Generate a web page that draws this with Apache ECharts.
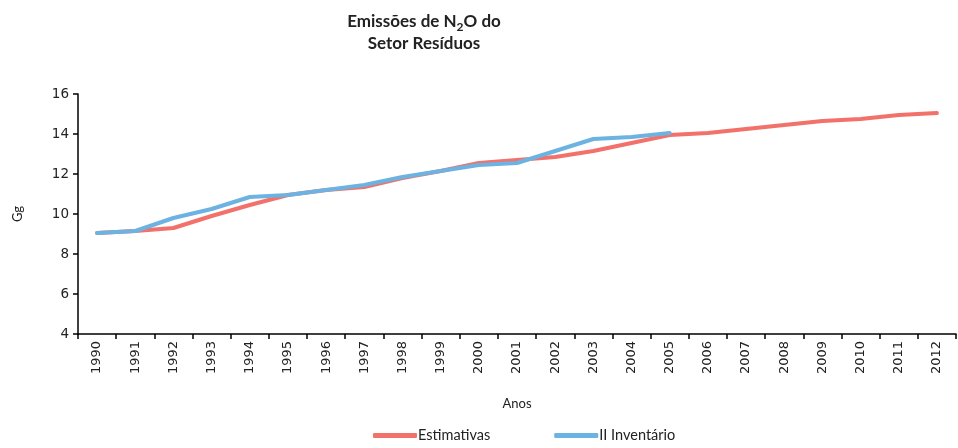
<!DOCTYPE html>
<html>
<head>
<meta charset="utf-8">
<script src="https://cdn.jsdelivr.net/npm/echarts@6/dist/echarts.min.js"></script>
<style>
  html, body { margin: 0; padding: 0; background: #fff; }
  #chart { width: 958px; height: 448px; }
</style>
</head>
<body>
<div id="chart"></div>
<script>
// anos
const anos = ['1990','1991','1992','1993','1994','1995','1996','1997','1998','1999','2000',
  '2001','2002','2003','2004','2005','2006','2007','2008','2009','2010','2011','2012'];
// Estimativas (Gg)
const estimativas = [9.05, 9.15, 9.3, 9.9, 10.45, 10.95, 11.2, 11.35, 11.8, 12.15, 12.55,
  12.7, 12.85, 13.15, 13.55, 13.95, 14.05, 14.25, 14.45, 14.65, 14.75, 14.95, 15.05];
// II Inventário (1990-2005)
const inventario = [9.05, 9.15, 9.8, 10.25, 10.85, 10.95, 11.2, 11.45, 11.85, 12.15, 12.45,
  12.55, 13.15, 13.75, 13.85, 14.05];

const chart = echarts.init(document.getElementById('chart'));

const option = {
  animation: false,
  title: {
    text: 'Emissões de N{sub|2}O do\nSetor Resíduos',
    left: 419,
    top: 6,
    textAlign: 'center',
    textStyle: {
      fontFamily: 'Lato',
      fontWeight: 'bold',
      fontSize: 17,
      color: '#222',
      lineHeight: 22,
      rich: {
        sub: { fontFamily: 'Lato', fontWeight: 'bold', fontSize: 12, color: '#222', verticalAlign: 'bottom', padding: [7, 0, 0, 0] }
      }
    }
  },
  legend: {
    bottom: 0,
    left: 368,
    itemGap: 64,
    itemWidth: 44,
    itemHeight: 5,
    icon: 'roundRect',
    textStyle: { fontFamily: 'Lato', fontSize: 14.5, color: '#222', padding: [0, 0, 0, -4] },
    data: ['Estimativas', 'II Inventário']
  },
  grid: { left: 78, right: 2, top: 94, bottom: 114 },
  xAxis: {
    type: 'category',
    data: anos,
    boundaryGap: true,
    name: 'Anos',
    nameLocation: 'middle',
    nameGap: 63,
    nameTextStyle: { fontFamily: 'Lato', fontSize: 13, color: '#222' },
    axisLine: { lineStyle: { color: '#000', width: 1.5 } },
    axisTick: { show: true, length: 5, alignWithLabel: false, lineStyle: { color: '#000', width: 1.5 } },
    axisLabel: { rotate: 90, fontFamily: 'DejaVu Sans', fontSize: 13, color: '#222', margin: 7 },
    splitLine: { show: false }
  },
  yAxis: {
    type: 'value',
    min: 4,
    max: 16,
    interval: 2,
    name: 'Gg',
    nameLocation: 'middle',
    nameGap: 54,
    nameRotate: 90,
    nameTextStyle: { fontFamily: 'Lato', fontSize: 13, color: '#222' },
    axisLine: { show: true, lineStyle: { color: '#000', width: 1.5 } },
    axisTick: { show: true, length: 5, lineStyle: { color: '#000', width: 1.5 } },
    axisLabel: { fontFamily: 'DejaVu Sans', fontSize: 13.5, color: '#222', margin: 9 },
    splitLine: { show: false }
  },
  series: [
    {
      name: 'Estimativas',
      type: 'line',
      data: estimativas,
      symbol: 'none',
      color: '#F2716A',
      lineStyle: { width: 4, color: '#F2716A', cap: 'round' },
      z: 2
    },
    {
      name: 'II Inventário',
      type: 'line',
      data: inventario,
      symbol: 'none',
      color: '#6CB3E2',
      lineStyle: { width: 4, color: '#6CB3E2', cap: 'round' },
      z: 3
    }
  ]
};

chart.setOption(option);
</script>
</body>
</html>
